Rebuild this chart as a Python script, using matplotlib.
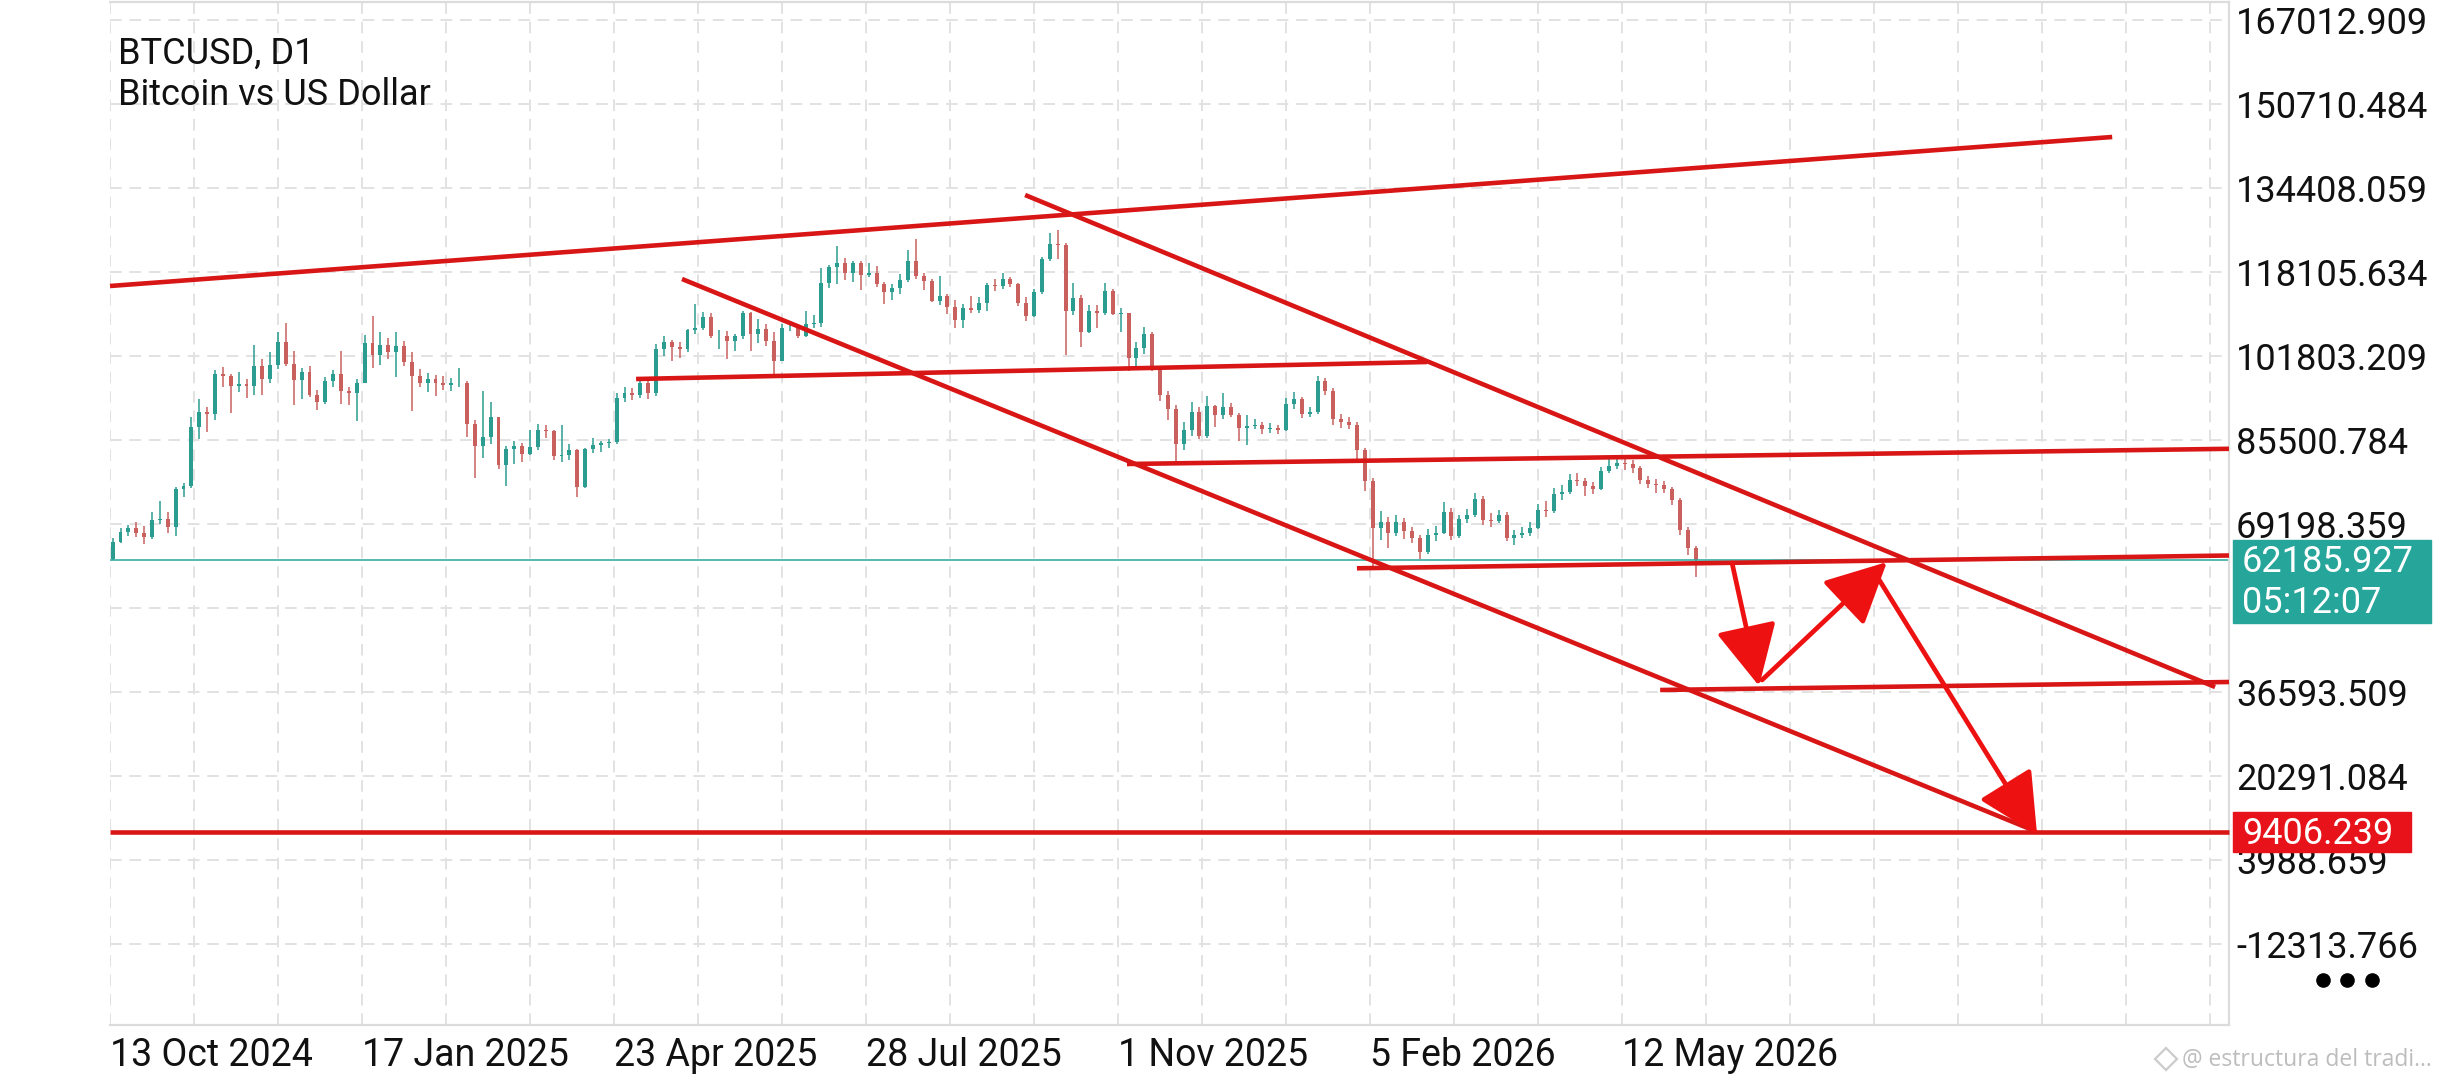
import numpy as np
import matplotlib.pyplot as plt
from matplotlib.patches import FancyArrowPatch, Rectangle
from matplotlib.lines import Line2D

plt.rcParams['font.family'] = ['Roboto', 'DejaVu Sans']

W, H = 2460, 1080

# ---- data -------------------------------------------------------------
# 3-day candles starting 13 Oct 2024, prices in thousands of USD
first_open = 62.5
closes = [
    65.8, 67.6, 68.4, 67.4, 66.6, 69.9, 70.2, 68.7, 75.9, 76.5,
    88.0, 91.0, 90.5, 98.3, 97.9, 95.9, 96.4, 95.9, 99.9, 97.4,
    100.0, 104.5, 100.2, 97.2, 98.7, 94.2, 92.8, 96.9, 98.4, 95.0,
    94.6, 96.6, 104.4, 102.0, 104.0, 102.6, 103.7, 100.6, 97.9, 96.5,
    97.4, 96.6, 96.1, 96.6, 96.6, 88.7, 84.4, 86.1, 89.9, 80.6,
    83.7, 84.3, 82.7, 84.1, 87.5, 87.2, 82.4, 82.5, 83.5, 76.3,
    83.7, 84.5, 84.9, 85.1, 93.7, 94.6, 94.3, 96.5, 94.7, 103.2,
    104.6, 103.5, 103.2, 106.8, 107.3, 109.4, 105.6, 105.7, 104.7, 105.7,
    110.2, 106.1, 107.1, 104.7, 100.9, 107.3, 107.3, 105.7, 108.0, 108.2,
    116.0, 119.1, 119.9, 117.9, 119.9, 117.6, 117.9, 115.8, 114.2, 115.0,
    116.5, 120.2, 117.4, 116.3, 112.5, 113.5, 111.3, 108.8, 111.2, 110.7,
    112.1, 115.5, 115.3, 116.8, 115.7, 112.0, 109.6, 114.3, 120.6, 123.5,
    123.3, 110.6, 113.1, 106.5, 110.6, 110.1, 114.5, 110.0, 110.1, 101.5,
    103.3, 106.0, 99.7, 94.2, 91.5, 84.7, 87.4, 90.9, 86.3, 92.1,
    90.4, 92.0, 90.3, 87.8, 88.3, 88.5, 87.6, 87.8, 87.5, 92.5,
    93.5, 90.5, 91.0, 97.0, 95.0, 89.5, 89.0, 88.5, 83.5, 77.5,
    68.5, 69.5, 67.5, 69.5, 67.8, 66.5, 63.8, 67.0, 67.5, 71.5,
    66.8, 70.2, 71.0, 74.0, 70.0, 69.8, 71.0, 66.5, 67.0, 67.5,
    68.5, 72.0, 71.8, 75.0, 75.5, 77.8, 77.5, 76.5, 76.0, 79.5,
    80.5, 81.0, 80.8, 80.0, 77.8, 77.0, 76.8, 76.0, 73.8, 68.0,
    64.5, 62.2,
]
highs = [
    66.5, 68.4, 69.0, 69.5, 68.8, 71.5, 73.6, 71.6, 76.4, 77.2,
    89.9, 93.4, 92.0, 99.0, 99.6, 98.4, 98.7, 97.3, 103.9, 101.3,
    102.5, 106.5, 108.3, 102.8, 99.5, 99.9, 95.3, 97.8, 99.0, 102.7,
    95.8, 97.4, 105.9, 109.6, 106.4, 105.3, 106.4, 104.8, 102.5, 99.2,
    98.5, 98.1, 98.0, 97.5, 99.5, 96.9, 89.3, 95.0, 92.8, 90.0,
    84.3, 85.3, 85.0, 87.4, 88.7, 88.5, 87.4, 88.4, 84.7, 83.7,
    83.9, 85.8, 85.4, 85.6, 94.7, 95.7, 95.5, 97.4, 96.9, 104.1,
    105.7, 105.0, 104.6, 107.1, 111.9, 110.4, 110.2, 106.8, 106.6, 106.0,
    110.6, 110.3, 108.9, 108.0, 106.4, 108.1, 108.5, 108.0, 110.5, 109.7,
    118.8, 119.5, 123.2, 120.9, 120.2, 120.3, 119.8, 119.3, 116.1, 115.7,
    117.7, 122.3, 124.5, 118.0, 116.8, 117.4, 113.8, 112.6, 111.8, 113.4,
    113.3, 116.0, 116.8, 117.9, 117.2, 115.9, 113.3, 114.8, 121.0, 125.6,
    126.2, 123.8, 115.9, 113.6, 111.7, 111.7, 116.0, 114.8, 111.2, 110.2,
    104.5, 107.5, 106.4, 99.9, 95.0, 92.3, 89.0, 92.9, 91.9, 94.1,
    92.3, 94.6, 92.7, 90.8, 90.3, 89.6, 88.9, 88.8, 88.4, 93.6,
    94.8, 93.9, 92.0, 97.9, 97.6, 95.5, 90.5, 89.9, 89.0, 84.0,
    78.2, 71.8, 70.6, 70.9, 70.3, 68.6, 67.0, 68.3, 68.9, 73.4,
    72.3, 71.0, 72.1, 75.2, 74.6, 71.4, 72.0, 71.6, 68.1, 68.6,
    69.5, 73.1, 73.6, 76.1, 76.7, 78.9, 79.0, 78.2, 77.3, 80.3,
    81.9, 82.6, 82.2, 81.7, 80.4, 78.6, 77.9, 77.5, 76.4, 74.2,
    68.6, 64.9,
]
lows = [
    62.2, 65.5, 66.9, 66.6, 65.3, 66.3, 69.2, 67.5, 66.8, 74.4,
    76.1, 85.6, 87.1, 89.4, 95.8, 90.8, 94.9, 93.6, 94.3, 94.2,
    96.6, 99.2, 99.9, 92.2, 93.4, 93.8, 91.4, 92.4, 95.8, 92.5,
    92.2, 89.2, 96.5, 99.5, 100.1, 101.2, 97.8, 99.8, 91.2, 95.7,
    94.9, 94.1, 95.2, 95.0, 95.7, 86.1, 78.2, 82.0, 84.7, 79.9,
    76.6, 80.8, 81.2, 82.5, 83.6, 85.9, 81.7, 81.3, 81.6, 74.5,
    76.1, 83.0, 83.1, 83.9, 84.8, 92.9, 93.2, 93.6, 93.5, 94.1,
    101.9, 100.9, 101.4, 102.6, 106.0, 106.8, 105.3, 103.1, 101.2, 102.8,
    105.1, 102.7, 104.3, 103.8, 98.2, 100.8, 106.6, 105.2, 105.4, 107.2,
    107.4, 115.0, 115.7, 116.6, 116.1, 114.7, 117.2, 115.2, 111.9, 112.6,
    113.9, 116.2, 116.8, 114.7, 112.3, 111.7, 109.9, 107.3, 107.2, 110.1,
    110.2, 110.6, 114.5, 114.8, 115.2, 111.5, 108.6, 109.3, 113.8, 120.3,
    120.6, 102.0, 109.7, 103.6, 106.3, 107.3, 109.7, 109.8, 106.4, 98.9,
    99.3, 102.2, 98.9, 93.0, 89.3, 80.6, 83.5, 86.3, 85.6, 85.9,
    88.1, 89.5, 89.9, 85.3, 84.5, 87.6, 86.6, 86.9, 86.6, 87.2,
    91.5, 89.8, 89.9, 90.6, 94.3, 88.4, 87.9, 87.6, 81.2, 75.6,
    60.3, 66.1, 64.5, 66.8, 66.2, 65.5, 62.4, 63.3, 65.9, 67.2,
    66.0, 66.4, 69.3, 70.6, 69.1, 68.6, 69.4, 65.9, 65.2, 66.4,
    66.9, 68.2, 70.5, 71.3, 73.9, 75.1, 76.6, 74.6, 75.1, 75.7,
    79.0, 79.8, 79.7, 79.1, 76.9, 76.1, 75.2, 75.3, 72.9, 67.1,
    63.2, 58.9,
]
candle_step = 3  # days per candle

last_price = 62185.927
last_timer = '05:12:07'
target_price = 9406.239

# hand drawn objects, (day, price) pairs; day 0 = 13 Oct 2024
trendlines = [
    ((0.0, 115389), (762.7, 144307)),
    ((348.6, 133050), (801.9, 37564)),
    ((217.9, 116748), (733.3, 9617)),
    ((200.4, 97340), (501.7, 100639)),
    ((387.4, 80843), (807.2, 83793)),
    ((475.0, 60600), (807.2, 63085)),
    ((590.5, 36982), (807.2, 38535)),
    ((0.0, target_price), (807.2, target_price)),
]
arrows = [
    ((617.9, 61629), (628.2, 37758)),
    ((629.3, 38922), (676.9, 61824)),
    ((673.5, 58718), (734.1, 8841)),
]

price_ticks = [167012.909, 150710.484, 134408.059, 118105.634, 101803.209,
               85500.784, 69198.359, 52895.934, 36593.509, 20291.084,
               3988.659, -12313.766]
hidden_tick = 52895.934  # sits under the live price box
date_ticks = [0, 96, 192, 288, 384, 480, 576]
date_labels = ['13 Oct 2024', '17 Jan 2025', '23 Apr 2025', '28 Jul 2025',
               '1 Nov 2025', '5 Feb 2026', '12 May 2026']
grid_days = list(range(0, 801, 32))

# ---- styles -----------------------------------------------------------
UP = '#2a9d90'
DOWN = '#c9605e'
RED = '#d91616'
ARROW_RED = '#ee1111'
TEAL = '#26a69a'
GRID = '#e2e2e2'
FS = 26

fig = plt.figure(figsize=(W / 100, H / 100), dpi=100)
ax = fig.add_axes([110 / W, 1 - 1025 / H, (2229 - 110) / W, (1025 - 2) / H])
ax.set_xlim(0, 807.2)
ax.set_ylim(-28034, 170506)

# grid
for v in price_ticks:
    ax.axhline(v, color=GRID, lw=1.4, ls=(0, (6, 4)), zorder=0)
for d in grid_days:
    ax.axvline(d, color=GRID, lw=1.4, ls=(0, (6, 4)), zorder=0)

# candles
c = np.array(closes) * 1000
o = np.r_[first_open, closes[:-1]] * 1000
hi = np.array(highs) * 1000
lo = np.array(lows) * 1000
x = np.arange(len(c)) * candle_step + 1
cols = np.where(c >= o, UP, DOWN)
ax.vlines(x, lo, hi, colors=cols, lw=1.1, zorder=2)
ax.bar(x, np.abs(c - o), bottom=np.minimum(o, c), width=1.5, color=cols,
       linewidth=0, zorder=2)

# current price line
ax.axhline(last_price, color=TEAL, lw=1.1, zorder=2.5)

# drawn lines and arrows
for (x0, y0), (x1, y1) in trendlines:
    ax.plot([x0, x1], [y0, y1], color=RED, lw=3.3, solid_capstyle='butt',
            zorder=3, clip_on=False)
for (x0, y0), (x1, y1) in arrows:
    ax.add_patch(FancyArrowPatch(
        (x0, y0), (x1, y1),
        arrowstyle='-|>,head_length=38,head_width=19',
        mutation_scale=1, lw=3.4, color=ARROW_RED,
        shrinkA=0, shrinkB=0, zorder=4))

# axes look
ax.spines['left'].set_visible(False)
for side in ['top', 'right', 'bottom']:
    ax.spines[side].set_color('#dcdcdc')
    ax.spines[side].set_linewidth(1.6)
ax.yaxis.tick_right()
ax.set_yticks(price_ticks)
ax.set_yticklabels(['' if v == hidden_tick else f'{v:.3f}'
                    for v in price_ticks])
ax.set_xticks(date_ticks)
ax.set_xticklabels(date_labels, ha='left')
ax.tick_params(axis='y', length=0, pad=5, labelsize=FS, labelcolor='#111111')
ax.tick_params(axis='x', length=0, pad=9, labelsize=27, labelcolor='#111111')

# header
fig.text(118 / W, 1 - 64 / H, 'BTCUSD, D1', fontsize=26, color='#111111',
         va='baseline')
fig.text(118 / W, 1 - 105 / H, 'Bitcoin vs US Dollar', fontsize=26,
         color='#111111', va='baseline')


# price boxes on the right scale
def ypix(price):
    return ax.transData.transform((0, price))[1]


yp = ypix(last_price)
fig.patches.append(Rectangle((2233 / W, (yp - 63) / H), 198 / W, 83 / H,
                             transform=fig.transFigure, color=TEAL, zorder=5))
fig.text(2242 / W, (yp - 12) / H, f'{last_price:.3f}', fontsize=FS,
         color='white', va='baseline', zorder=6)
fig.text(2242 / W, (yp - 53) / H, last_timer, fontsize=FS,
         color='white', va='baseline', zorder=6)

yr = ypix(target_price)
fig.patches.append(Rectangle((2233 / W, (yr - 20) / H), 178 / W, 40 / H,
                             transform=fig.transFigure, color='#e8121a',
                             zorder=5))
fig.text(2242 / W, (yr - 12) / H, f'{target_price:.3f}', fontsize=FS,
         color='white', va='baseline', zorder=6)

# menu dots and watermark
fig.add_artist(Line2D([2323 / W, 2347 / W, 2372 / W], [1 - 980 / H] * 3,
                      transform=fig.transFigure, ls='', marker='o', ms=9.5,
                      color='black'))
fig.add_artist(Line2D([2166 / W], [1 - 1059 / H], transform=fig.transFigure,
                      ls='', marker='D', ms=11, mfc='none', mec='#cccccc',
                      mew=1.6))
fig.text(2182 / W, 1 - 1066 / H, '@ estructura del tradi...', fontsize=16.5,
         family=['Open Sans', 'DejaVu Sans'], color='#bdbdbd', va='baseline')

fig.savefig('out.png', dpi=100, facecolor='white')
